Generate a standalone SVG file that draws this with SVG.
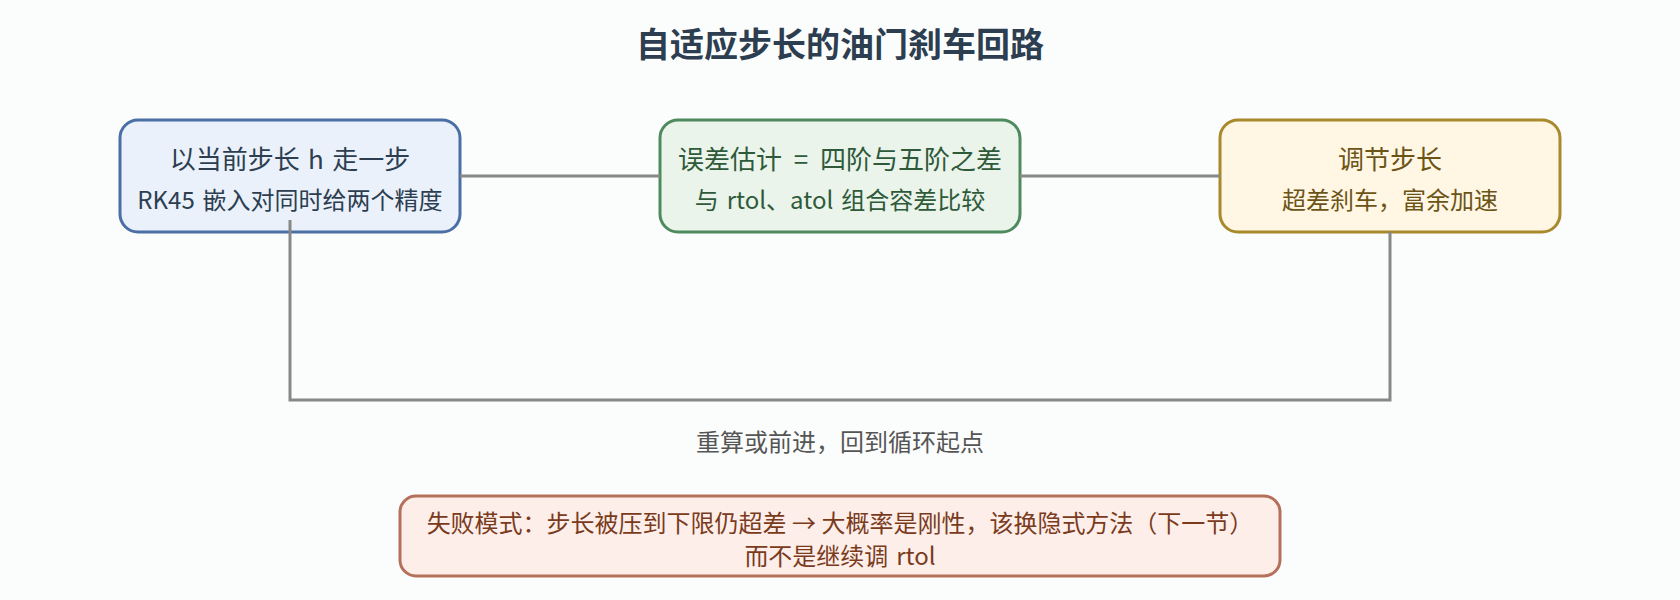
<svg xmlns="http://www.w3.org/2000/svg" width="1680" height="600" viewBox="0 0 1680 600">
<style>
text{font-family:"Noto Sans CJK SC","Noto Sans",sans-serif;text-anchor:middle}
.title{font-size:34px;font-weight:bold;fill:#2c3e50}
.l1{font-size:26px;word-spacing:2.5px}
.l2{font-size:24px;word-spacing:2.5px}
.box{stroke-width:3}
.conn{fill:none;stroke:#888888;stroke-width:3}
</style>
<rect width="1680" height="600" fill="#fbfcfc"/>
<text class="title" x="840" y="57">自适应步长的油门刹车回路</text>
<g id="node-step">
<rect class="box" x="120" y="120" width="340" height="112" rx="18" fill="#eaf1fb" stroke="#4a6fa5"/>
<text class="l1" x="290" y="169" fill="#2c3e50">以当前步长 h 走一步</text>
<text class="l2" x="290" y="209" fill="#2c3e50">RK45 嵌入对同时给两个精度</text>
</g>
<g id="node-error">
<rect class="box" x="660" y="120" width="360" height="112" rx="18" fill="#eaf4ea" stroke="#4e8a5e"/>
<text class="l1" x="840" y="169" fill="#2e5a3a" style="word-spacing:6px">误差估计 = 四阶与五阶之差</text>
<text class="l2" x="840" y="209" fill="#2e5a3a">与 rtol、atol 组合容差比较</text>
</g>
<g id="node-adjust">
<rect class="box" x="1220" y="120" width="340" height="112" rx="18" fill="#fff6e3" stroke="#a8892c"/>
<text class="l1" x="1390" y="169" fill="#6b5416">调节步长</text>
<text class="l2" x="1390" y="209" fill="#6b5416">超差刹车，富余加速</text>
</g>
<g id="connectors">
<line class="conn" x1="460" y1="176" x2="660" y2="176"/>
<line class="conn" x1="1020" y1="176" x2="1220" y2="176"/>
<path class="conn" d="M1390,232 V400 H290 V220"/>
<text class="l2" x="840" y="451" fill="#555555" style="word-spacing:0">重算或前进，回到循环起点</text>
</g>
<g id="note-failure">
<rect class="box" x="400" y="496" width="880" height="80" rx="16" fill="#fdeeea" stroke="#b5705a"/>
<text class="l2" x="840" y="532" fill="#7a3b1c" style="word-spacing:0">失败模式：步长被压到下限仍超差 → 大概率是刚性，该换隐式方法（下一节）</text>
<text class="l2" x="840" y="565" fill="#7a3b1c">而不是继续调 rtol</text>
</g>
</svg>
